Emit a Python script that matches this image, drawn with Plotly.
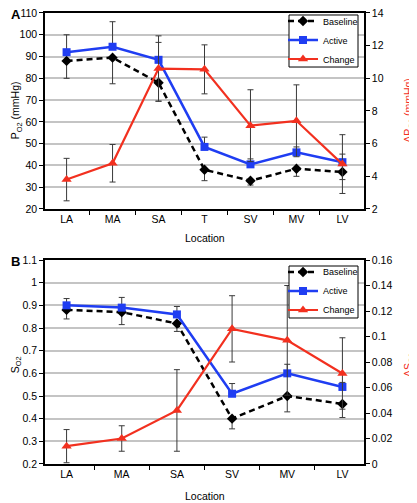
import plotly.graph_objects as go

# ---------------- data ----------------
cats_A = ["LA", "MA", "SA", "T", "SV", "MV", "LV"]
base_A = [88, 89.5, 78, 38, 33, 38.5, 37]
base_A_err = [8, 12, 8.5, 5, 2, 3.5, 3.5]
active_A = [92, 94.5, 88.5, 48.5, 40.5, 46, 41.5]
active_A_err = [8, 11.5, 8, 4.5, 2.5, 2.5, 3.7]
change_A = [3.8, 4.8, 10.6, 10.55, 7.1, 7.4, 4.75]
change_A_err = [1.3, 1.15, 2.0, 1.5, 2.2, 2.2, 1.8]

cats_B = ["LA", "MA", "SA", "SV", "MV", "LV"]
base_B = [0.88, 0.87, 0.82, 0.40, 0.50, 0.465]
base_B_err = [0.04, 0.055, 0.035, 0.045, 0.07, 0.06]
active_B = [0.90, 0.89, 0.86, 0.51, 0.60, 0.54]
active_B_err = [0.03, 0.045, 0.035, 0.045, 0.04, 0.02]
change_B = [0.014, 0.020, 0.042, 0.106, 0.097, 0.071]
change_B_err = [0.013, 0.010, 0.032, 0.026, 0.043, 0.028]

# ---------------- styles ----------------
BLACK = "#000000"
BLUE = "#1f3df2"
RED = "#f2301f"
ERR = "#3a3a3a"
FONT = "Liberation Sans, Arial, sans-serif"

fig = go.Figure()


def add_panel(cats, base, base_err, active, active_err, change, change_err,
              xa, ya, ya2, legend):
    zeros = [0] * len(cats)
    fig.add_trace(go.Scatter(
        x=cats, y=base, name="Baseline", mode="lines+markers",
        line=dict(color=BLACK, width=2.5, dash="6px,4px"),
        marker=dict(symbol="diamond", size=8, color=BLACK),
        error_y=dict(type="data", array=zeros, arrayminus=base_err,
                     color=ERR, thickness=1, width=3),
        xaxis=xa, yaxis=ya, legend=legend))
    fig.add_trace(go.Scatter(
        x=cats, y=active, name="Active", mode="lines+markers",
        line=dict(color=BLUE, width=2.5),
        marker=dict(symbol="square", size=8, color=BLUE),
        error_y=dict(type="data", array=active_err, arrayminus=zeros,
                     color=ERR, thickness=1, width=3),
        xaxis=xa, yaxis=ya, legend=legend))
    fig.add_trace(go.Scatter(
        x=cats, y=change, name="Change", mode="lines+markers",
        line=dict(color=RED, width=2.2),
        marker=dict(symbol="triangle-up", size=9, color=RED),
        error_y=dict(type="data", array=change_err,
                     color=ERR, thickness=1, width=3),
        xaxis=xa, yaxis=ya2, legend=legend))


add_panel(cats_A, base_A, base_A_err, active_A, active_A_err, change_A,
          change_A_err, "x", "y", "y2", "legend")
add_panel(cats_B, base_B, base_B_err, active_B, active_B_err, change_B,
          change_B_err, "x2", "y3", "y4", "legend2")

tickfont = dict(family=FONT, size=10.5, color="black")

xcommon = dict(type="category", showline=True, linecolor="black", linewidth=1.5,
               mirror=True, ticks="outside", ticklen=4, tickwidth=1.2,
               tickcolor="black", tickson="boundaries", showgrid=False,
               tickfont=tickfont, zeroline=False)
ycommon = dict(showline=True, linecolor="black", linewidth=1.5,
               ticks="outside", ticklen=4, tickwidth=1.2, tickcolor="black",
               tickfont=tickfont, zeroline=False, ticklabeloverflow="allow")

dom_A = [0.5617, 0.9934]
dom_B = [0.0, 0.4493]

legend_common = dict(xanchor="left", yanchor="top", borderwidth=0,
                     bgcolor="rgba(0,0,0,0)", font=dict(family=FONT, size=9),
                     tracegroupgap=0, itemwidth=30)

# the page body adds an 8px offset, so the figure is 8px smaller
fig.update_layout(
    width=409, height=495,
    margin=dict(l=37, r=53, t=2, b=39, autoexpand=False),
    paper_bgcolor="white", plot_bgcolor="white",
    font=dict(family=FONT, size=10.5, color="black"),
    xaxis=dict(domain=[0, 1], anchor="y", **xcommon),
    yaxis=dict(domain=dom_A, anchor="x", range=[20, 110], dtick=10,
               showgrid=True, gridcolor="#c4c4c4", gridwidth=1.5, **ycommon),
    yaxis2=dict(overlaying="y", side="right", anchor="x", range=[2, 14],
                dtick=2, showgrid=False, **ycommon),
    xaxis2=dict(domain=[0, 1], anchor="y3", **xcommon),
    yaxis3=dict(domain=dom_B, anchor="x2", range=[0.2, 1.1], dtick=0.1,
                tick0=0.2, showgrid=True, gridcolor="#c4c4c4", gridwidth=1.5,
                **ycommon),
    yaxis4=dict(overlaying="y3", side="right", anchor="x2", range=[0, 0.16],
                dtick=0.02, tick0=0, showgrid=False, **ycommon),
    legend=dict(x=0.7461, y=1.0077, **legend_common),
    legend2=dict(x=0.7461, y=0.4549, **legend_common),
    showlegend=True,
)

# legend frames
for y0, y1 in [(0.8744, 0.989), (0.3216, 0.4361)]:
    fig.add_shape(type="rect", xref="paper", yref="paper",
                  x0=0.7649, x1=0.9812, y0=y0, y1=y1,
                  line=dict(color="black", width=1), fillcolor="white",
                  layer="above")

ann = [
    dict(text="<b>A</b>", x=-0.113, y=0.991, font=dict(size=13), xanchor="left"),
    dict(text="<b>B</b>", x=-0.113, y=0.445, font=dict(size=13), xanchor="left"),
    dict(text="P<sub>O2</sub> (mmHg)", x=-0.09, y=0.78, textangle=-90),
    dict(text="ΔP<sub>O2</sub> (mmHg)", x=1.141, y=0.78, textangle=-90,
         font=dict(color=RED)),
    dict(text="S<sub>O2</sub>", x=-0.09, y=0.218, textangle=-90),
    dict(text="ΔS<sub>O2</sub>", x=1.141, y=0.218, textangle=-90,
         font=dict(color=RED)),
    dict(text="Location", x=0.5016, y=0.4978),
    dict(text="Location", x=0.5016, y=-0.0705),
]
for a in ann:
    f = dict(family=FONT, size=10.5, color="black")
    f.update(a.pop("font", {}))
    xa = a.pop("xanchor", "center")
    fig.add_annotation(xref="paper", yref="paper", showarrow=False,
                       xanchor=xa, yanchor="middle", font=f, **a)

fig.write_html("out.html")
